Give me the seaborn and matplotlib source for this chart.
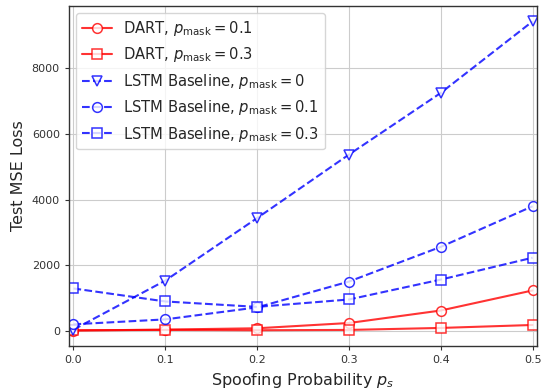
import matplotlib
matplotlib.use("Agg")
import matplotlib.pyplot as plt
import seaborn as sns
import pandas as pd

p_s = [0.0, 0.1, 0.2, 0.3, 0.4, 0.5]
dart_01 = [20, 50, 90, 250, 630, 1240]
dart_03 = [30, 40, 30, 40, 100, 190]
lstm_0 = [50, 1540, 3440, 5370, 7245, 9420]
lstm_01 = [210, 360, 725, 1510, 2565, 3800]
lstm_03 = [1300, 905, 740, 965, 1570, 2235]

labels = [r"DART, $p_{\mathrm{mask}}=0.1$",
          r"DART, $p_{\mathrm{mask}}=0.3$",
          r"LSTM Baseline, $p_{\mathrm{mask}}=0$",
          r"LSTM Baseline, $p_{\mathrm{mask}}=0.1$",
          r"LSTM Baseline, $p_{\mathrm{mask}}=0.3$"]
series = [dart_01, dart_03, lstm_0, lstm_01, lstm_03]
colors = ["red", "red", "blue", "blue", "blue"]
markers = ["o", "s", "v", "o", "s"]
styles = ["-", "-", "--", "--", "--"]

sns.set_style("whitegrid", {"axes.edgecolor": "0.2", "grid.color": "0.8",
                            "xtick.bottom": True, "ytick.left": True})

fig, ax = plt.subplots(figsize=(5.51, 3.91), dpi=100)
for lab, vals, c, m, ls in zip(labels, series, colors, markers, styles):
    df = pd.DataFrame({"x": p_s, "y": vals})
    sns.lineplot(data=df, x="x", y="y", ax=ax, color=c, marker=m, linestyle=ls,
                 markersize=7, markerfacecolor="white", markeredgecolor=c,
                 markeredgewidth=1.1, linewidth=1.5, alpha=0.8, label=lab)

ax.set_xlim(-0.005, 0.505)
ax.set_xticks(p_s)
ax.set_xlabel(r"Spoofing Probability $p_s$", fontsize=11.5)
ax.set_ylabel("Test MSE Loss", fontsize=11.5)
ax.tick_params(labelsize=8, colors="0.2", length=3)
for sp in ax.spines.values():
    sp.set_linewidth(1.0)
ax.legend(loc="upper left", fontsize=10.6, frameon=True, framealpha=0.8)
fig.subplots_adjust(left=0.125, right=0.975, top=0.985, bottom=0.115)
fig.savefig("out.png", dpi=100)
